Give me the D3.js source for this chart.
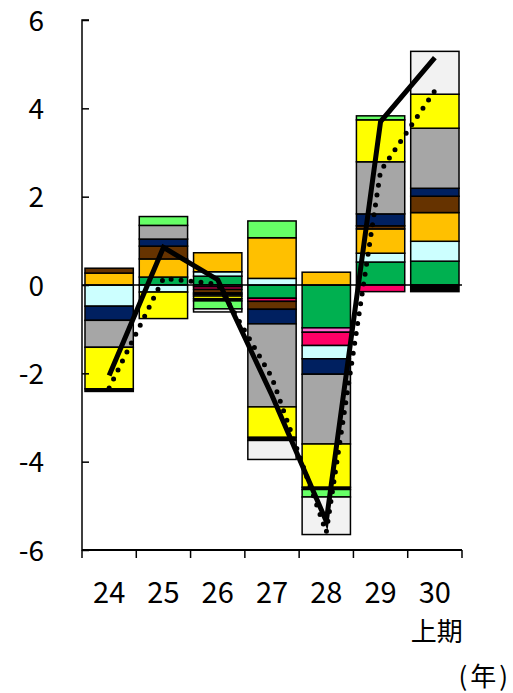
<!DOCTYPE html>
<html><head><meta charset="utf-8">
<script src="https://cdn.jsdelivr.net/npm/d3@7/dist/d3.min.js"></script>
<style>body{margin:0;background:#fff}svg{display:block}text{font-family:"Noto Sans CJK JP","Noto Sans",sans-serif;fill:#000}</style>
</head><body>
<script>
const years = ["24","25","26","27","28","29","30"];
const seriesNames = ["darkGreen","pink","red","lightCyan","orange","brown","navy","gray","yellow","black","lightGreen","lightGray"];
const seriesColors = ["#00B050","#FF66CC","#FF0066","#CCFFFF","#FFC000","#663300","#002060","#A6A6A6","#FFFF00","#000000","#66FF66","#F2F2F2"];
const darkGreen  = [0, 0.18, 0.2, -0.3, -0.97, 0.52, 0.54];
const pink       = [0, 0, -0.04, 0, -0.1, 0, 0];
const red        = [0, 0, -0.06, -0.07, -0.3, -0.15, 0];
const lightCyan  = [-0.48, -0.16, 0.1, 0.15, -0.3, 0.2, 0.45];
const orange     = [0.27, 0.41, 0.43, 0.92, 0.29, 0.55, 0.65];
const brown      = [0.11, 0.29, -0.08, -0.18, 0, 0.07, 0.37];
const navy       = [-0.32, 0.16, -0.03, -0.33, -0.35, 0.27, 0.18];
const gray       = [-0.61, 0.31, -0.04, -1.88, -1.58, 1.18, 1.36];
const yellow     = [-0.94, -0.6, -0.06, -0.69, -0.98, 0.95, 0.77];
const black      = [-0.06, 0, -0.05, -0.07, -0.05, 0, -0.15];
const lightGreen = [0, 0.2, -0.18, 0.38, -0.17, 0.09, 0];
const lightGray  = [0, 0, -0.07, -0.43, -0.85, 0, 0.97];
const totalLine  = [-2.05, 0.85, 0.12, -2.5, -5.35, 3.7, 5.15];
const dottedLine = [-2.33, 0.15, 0.02, -2.1, -5.6, 2.58, 4.4];
const yTicks = [-6,-4,-2,0,2,4,6];

const seriesValues = [darkGreen,pink,red,lightCyan,orange,brown,navy,gray,yellow,black,lightGreen,lightGray];
const table = years.map((yr,i)=>{const o={year:yr};seriesNames.forEach((n,j)=>o[n]=seriesValues[j][i]);return o;});

const W=513,H=693;
const svg=d3.select("body").append("svg").attr("width",W).attr("height",H);
const x=d3.scaleBand().domain(years).range([82,462]).paddingInner(0.11).paddingOuter(0.055);
const y=d3.scaleLinear().domain([-6,6]).range([550,20]);

const stack=d3.stack().keys(seriesNames).offset(d3.stackOffsetDiverging);
const layers=stack(table);
svg.append("g").selectAll("g").data(layers).join("g")
  .attr("fill",(d,i)=>seriesColors[i])
  .selectAll("rect").data(d=>d.filter(s=>Math.abs(s[1]-s[0])>1e-9)).join("rect")
  .attr("x",d=>x(d.data.year)).attr("width",x.bandwidth())
  .attr("y",d=>y(Math.max(d[0],d[1]))).attr("height",d=>Math.abs(y(d[0])-y(d[1])))
  .attr("stroke","#000").attr("stroke-width",1.5);

// zero line
svg.append("line").attr("x1",82).attr("x2",462).attr("y1",y(0)).attr("y2",y(0)).attr("stroke","#000").attr("stroke-width",1.5);

const line=d3.line().x((d,i)=>x(years[i])+x.bandwidth()/2).y(d=>y(d));
svg.append("path").attr("d",line(dottedLine)).attr("fill","none").attr("stroke","#000")
  .attr("stroke-width",5).attr("stroke-linecap","round").attr("stroke-dasharray","0 10");
svg.append("path").attr("d",line(totalLine)).attr("fill","none").attr("stroke","#000")
  .attr("stroke-width",5).attr("stroke-linecap","butt").attr("stroke-linejoin","miter");

// y axis
const yAxis=d3.axisRight(y).tickValues(yTicks).tickSize(7).tickFormat(d3.format("d"));
const ya=svg.append("g").attr("transform","translate(82,0)").call(yAxis);
ya.select(".domain").attr("stroke","#000").attr("stroke-width",1.5).attr("d","M7,20H0V550H7");
ya.selectAll(".tick line").attr("stroke","#000").attr("stroke-width",1.5);
ya.selectAll(".tick text").attr("x",-38).attr("text-anchor","end").attr("dy","0.36em").style("font-size","28px")
  .text(d=>d<0?"-"+Math.abs(d):d);

// x axis
const step=x.step();
const bounds=d3.range(years.length+1).map(i=>82+i*step);
svg.append("line").attr("x1",82).attr("x2",462).attr("y1",550).attr("y2",550).attr("stroke","#000").attr("stroke-width",2);
svg.append("g").selectAll("line").data(bounds).join("line")
  .attr("x1",d=>d).attr("x2",d=>d).attr("y1",550).attr("y2",558).attr("stroke","#000").attr("stroke-width",1.5);
svg.append("g").selectAll("text").data(years).join("text")
  .attr("x",d=>x(d)+x.bandwidth()/2).attr("y",603).attr("text-anchor","middle").style("font-size","29px").text(d=>d);
svg.append("text").attr("x",x("30")+x.bandwidth()/2+2).attr("y",641).attr("text-anchor","middle").style("font-size","26px").text("上期");
svg.append("text").attr("x",511).attr("y",686).attr("text-anchor","end").style("font-size","26px").style("letter-spacing","3px").text("(年)");
</script>
</body></html>
